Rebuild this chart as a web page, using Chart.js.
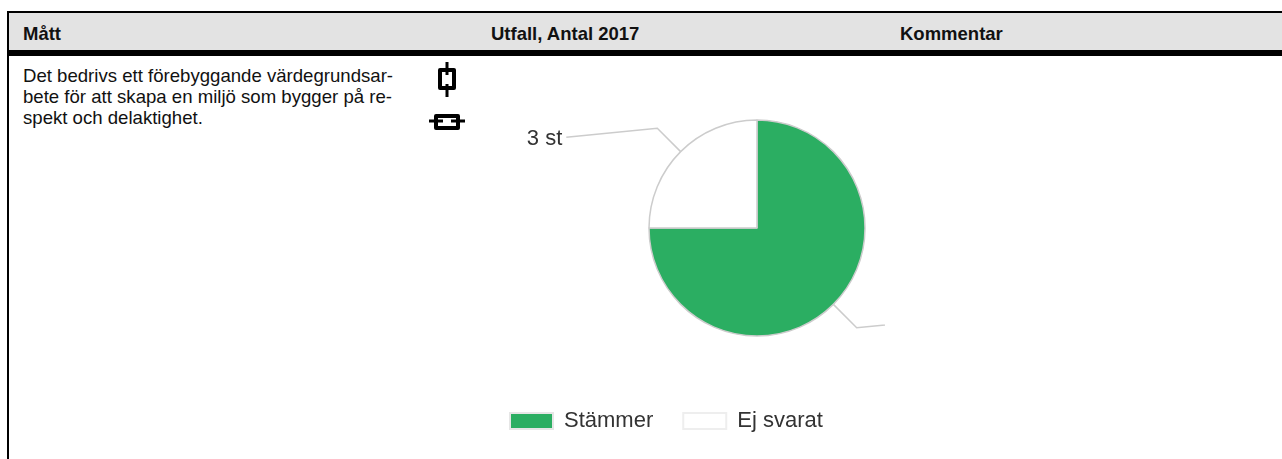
<!DOCTYPE html>
<html lang="sv">
<head>
<meta charset="utf-8">
<title>Utfall, Antal 2017</title>
<script src="https://cdn.jsdelivr.net/npm/chart.js@4"></script>
<style>
html,body{margin:0;padding:0;background:#fff;overflow:hidden}
body{position:relative;width:1282px;height:459px;font-family:"Liberation Sans",Arial,sans-serif;color:#111}
#top{position:absolute;left:7px;top:11px;right:0;height:2px;background:#000}
#left{position:absolute;left:7px;top:11px;width:2px;bottom:0;background:#000}
#head{position:absolute;left:9px;top:13px;right:0;height:37px;background:#e3e3e3}
#thick{position:absolute;left:7px;top:50px;right:0;height:5.5px;background:#000}
.h{position:absolute;top:24px;font-size:18.5px;line-height:20px;font-weight:bold}
#txt{position:absolute;left:23px;top:65px;width:390px;font-size:18.6px;line-height:21px;white-space:pre}
svg.i{position:absolute;filter:blur(.5px)}
#wrap{position:absolute;left:480px;top:55px;width:554px;height:407px}
</style>
</head>
<body>
<div id="top"></div><div id="left"></div><div id="head"></div><div id="thick"></div>
<div class="h" style="left:23px">Mått</div>
<div class="h" style="left:491px">Utfall, Antal 2017</div>
<div class="h" style="left:900px">Kommentar</div>
<div id="txt">Det bedrivs ett förebyggande värdegrundsar-
bete för att skapa en miljö som bygger på re-
spekt och delaktighet.</div>
<svg class="i" style="left:430px;top:58px" width="36" height="44" viewBox="0 0 36 44">
<path d="M10 12H24V30H10Z" fill="none" stroke="#000" stroke-width="4" stroke-linejoin="round"/>
<path d="M17 4V17M17 26V39" fill="none" stroke="#000" stroke-width="3"/>
</svg>
<svg class="i" style="left:428px;top:108px" width="38" height="26" viewBox="0 0 38 26">
<path d="M8 8H30V20H8Z" fill="none" stroke="#000" stroke-width="4" stroke-linejoin="round"/>
<path d="M1 13H15M23 13H37" fill="none" stroke="#000" stroke-width="3"/>
</svg>
<div id="wrap"><canvas id="c" width="554" height="407"></canvas></div>
<script>
const categories = ["Stämmer", "Ej svarat"];
const values = [9, 3];
const pointLabels = ["9 st", "3 st"];
const sliceColors = ["#2bae62", "#ffffff"];
const legendBorders = ["#e6e6e6", "#eeeeee"];

const leaders = {
  id: "leaders",
  afterDatasetsDraw(chart) {
    const ctx = chart.ctx;
    ctx.save();
    ctx.beginPath();
    ctx.rect(0, 0, 405, chart.height);
    ctx.clip();
    chart.getDatasetMeta(0).data.forEach((arc, i) => {
      const p = arc.getProps(["x", "y", "startAngle", "endAngle", "outerRadius"], true);
      const a = (p.startAngle + p.endAngle) / 2;
      const dir = Math.cos(a) >= 0 ? 1 : -1;
      const x0 = p.x + Math.cos(a) * p.outerRadius, y0 = p.y + Math.sin(a) * p.outerRadius;
      const x1 = p.x + Math.cos(a) * (p.outerRadius + 33), y1 = p.y + Math.sin(a) * (p.outerRadius + 33);
      const x2 = x1 + dir * 91, y2 = y1 + (dir > 0 ? -9 : 9);
      ctx.beginPath();
      ctx.moveTo(x0, y0); ctx.lineTo(x1, y1); ctx.lineTo(x2, y2);
      ctx.strokeStyle = "#cccccc";
      ctx.lineWidth = 1.5;
      ctx.stroke();
      ctx.fillStyle = "#333333";
      ctx.font = '22px "Liberation Sans", Arial, sans-serif';
      ctx.textBaseline = "middle";
      ctx.textAlign = dir > 0 ? "left" : "right";
      ctx.fillText(pointLabels[i], x2 + dir * 4, y2 + 2);
    });
    ctx.restore();
  }
};

new Chart(document.getElementById("c"), {
  type: "pie",
  data: {
    labels: categories,
    datasets: [{
      data: values,
      backgroundColor: sliceColors,
      borderColor: "#cccccc",
      borderWidth: 1.5,
      radius: 108
    }]
  },
  options: {
    responsive: false,
    animation: false,
    layout: { padding: { top: 21, bottom: 20 } },
    plugins: {
      tooltip: { enabled: false },
      legend: {
        position: "bottom",
        align: "start",
        labels: {
          boxWidth: 43,
          boxHeight: 16,
          padding: 30,
          color: "#333333",
          font: { family: '"Liberation Sans", Arial, sans-serif', size: 22 },
          generateLabels: () => categories.map((t, i) => ({
            text: t,
            fillStyle: sliceColors[i],
            strokeStyle: legendBorders[i],
            lineWidth: 2,
            fontColor: "#333333",
            index: i
          }))
        }
      }
    }
  },
  plugins: [leaders]
});
</script>
</body>
</html>
